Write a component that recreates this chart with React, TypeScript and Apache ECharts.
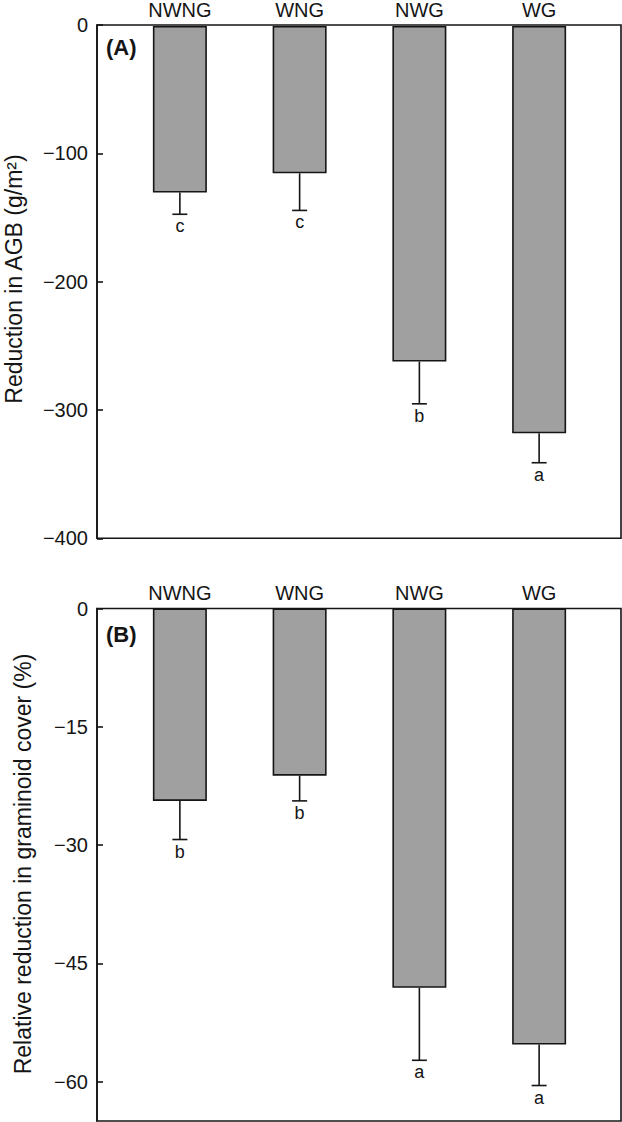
import React, { useEffect, useRef } from "react";
import * as echarts from "echarts";

const categories = ["NWNG", "WNG", "NWG", "WG"];

const agbMean = [-130, -115, -262, -318];
const agbErrLow = [-147, -144, -295, -341];
const agbLetters = ["c", "c", "b", "a"];
const agbTicks = [0, -100, -200, -300, -400];

const coverMean = [-24.4, -21.2, -48.1, -55.3];
const coverErrLow = [-29.3, -24.4, -57.3, -60.5];
const coverLetters = ["b", "b", "a", "a"];
const coverTicks = [0, -15, -30, -45, -60];

const FONT = "Liberation Sans, Arial, Helvetica, sans-serif";
const INK = "#151515";

const fmt = (val: any) => {
  const v = Number(val);
  return v < 0 ? "\u2212" + Math.abs(v) : String(v);
};

function errSeries(xAxisIndex: number, yAxisIndex: number, mean: number[], low: number[], letters: string[]) {
  return {
    type: "custom",
    xAxisIndex,
    yAxisIndex,
    data: mean.map((m, i) => [i, m, low[i]]),
    z: 5,
    renderItem: (params: any, api: any) => {
      const x = api.value(0);
      const p0 = api.coord([x, api.value(1)]);
      const p1 = api.coord([x, api.value(2)]);
      const st = { stroke: INK, lineWidth: 1.6 };
      return {
        type: "group",
        children: [
          { type: "line", shape: { x1: p0[0], y1: p0[1], x2: p0[0], y2: p1[1] }, style: st },
          { type: "line", shape: { x1: p0[0] - 7.5, y1: p1[1], x2: p0[0] + 7.5, y2: p1[1] }, style: st },
          {
            type: "text",
            style: {
              text: letters[params.dataIndex],
              x: p0[0],
              y: p1[1] + 3,
              align: "center",
              verticalAlign: "top",
              font: `18px ${FONT}`,
              fill: INK,
            },
          },
        ],
      };
    },
  };
}

export default function App() {
  const ref = useRef<HTMLDivElement>(null);
  useEffect(() => {
    if (!ref.current) return;
    const chart = echarts.init(ref.current, null, { renderer: "svg" });
    const gridA = { top: 25, height: 513.3 };
    const gridB = { top: 608.5, height: 512.5 };
    const outerL = 97, outerW = 524, innerL = 120, innerW = 479;
    const yBase = (min: number, ticks: number[], gridIndex: number, show: boolean) => ({
      type: "value",
      gridIndex,
      min,
      max: 0,
      show,
      splitLine: { show: false },
      axisLine: { show: true, lineStyle: { color: INK, width: 1.6 } },
      axisTick: { show: true, inside: true, length: 6, lineStyle: { color: INK, width: 1.6 }, customValues: ticks },
      axisLabel: { show: true, color: INK, fontSize: 20, fontFamily: FONT, margin: 9, formatter: fmt, customValues: ticks },
    });
    const xCat = (gridIndex: number) => ({
      type: "category",
      gridIndex,
      data: categories,
      position: "top",
      axisLine: { show: false },
      axisTick: { show: false },
      axisLabel: { color: INK, fontSize: 20, fontFamily: FONT, margin: 6 },
    });
    const xHidden = (gridIndex: number) => ({ type: "value", gridIndex, show: false, min: 0, max: 1 });
    const bar = (xAxisIndex: number, yAxisIndex: number, data: number[]) => ({
      type: "bar",
      xAxisIndex,
      yAxisIndex,
      data,
      barWidth: 54,
      itemStyle: { color: "#a0a0a0", borderColor: INK, borderWidth: 1.6 },
      z: 3,
    });
    chart.setOption({
      animation: false,
      backgroundColor: "#ffffff",
      grid: [
        { left: outerL, width: outerW, ...gridA, show: true, borderColor: INK, borderWidth: 1.6, backgroundColor: "transparent" },
        { left: innerL, width: innerW, ...gridA },
        { left: outerL, width: outerW, ...gridB, show: true, borderColor: INK, borderWidth: 1.6, backgroundColor: "transparent" },
        { left: innerL, width: innerW, ...gridB },
      ],
      xAxis: [xHidden(0), xCat(1), xHidden(2), xCat(3)],
      yAxis: [
        yBase(-400, agbTicks, 0, true),
        { type: "value", gridIndex: 1, min: -400, max: 0, show: false },
        yBase(-65, coverTicks, 2, true),
        { type: "value", gridIndex: 3, min: -65, max: 0, show: false },
      ],
      series: [
        bar(1, 1, agbMean),
        errSeries(1, 1, agbMean, agbErrLow, agbLetters),
        bar(3, 3, coverMean),
        errSeries(3, 3, coverMean, coverErrLow, coverLetters),
      ],
      graphic: [
        { type: "text", left: 106, top: 36, style: { text: "(A)", font: `bold 22px ${FONT}`, fill: INK } },
        { type: "text", left: 106, top: 623, style: { text: "(B)", font: `bold 22px ${FONT}`, fill: INK } },
        {
          type: "text",
          x: 14,
          y: 279,
          rotation: Math.PI / 2,
          style: { text: "Reduction in AGB (g/m\u00B2)", font: `23px ${FONT}`, fill: INK, align: "center", verticalAlign: "middle" },
        },
        {
          type: "text",
          x: 23,
          y: 864,
          rotation: Math.PI / 2,
          style: { text: "Relative reduction in graminoid cover (%)", font: `23px ${FONT}`, fill: INK, align: "center", verticalAlign: "middle" },
        },
      ],
    });
    return () => chart.dispose();
  }, []);
  return <div ref={ref} style={{ position: "absolute", left: 0, top: 0, width: 622, height: 1122 }} />;
}
